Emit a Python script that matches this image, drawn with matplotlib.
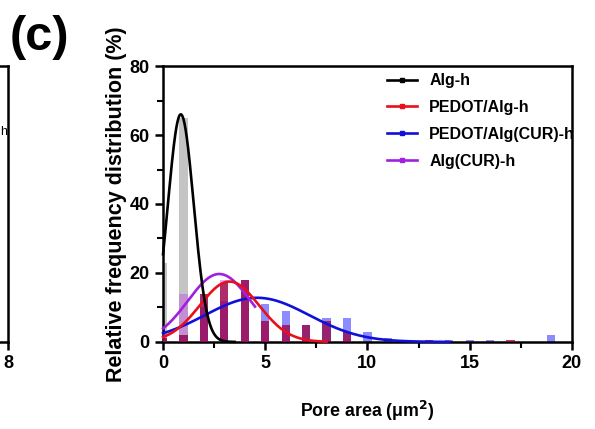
import numpy as np
import matplotlib
matplotlib.use('Agg')
import matplotlib.pyplot as plt
from matplotlib.lines import Line2D

plt.rcParams['font.family'] = ['Liberation Sans', 'DejaVu Sans']
plt.rcParams['font.weight'] = 'bold'

# 孔面积分布 (直方图, %)
pore_bins = np.arange(0, 20)
alg_h = [23, 65, 10, 2, 0, 0, 0, 0, 0, 0, 0, 0, 0, 0, 0, 0, 0, 0, 0, 0]
pedot_alg_h = [1, 2, 14, 17, 18, 6, 5, 5, 6, 3, 0, 0, 0, 0.5, 0, 0, 0, 0.5, 0, 0]
pedot_alg_cur_h = [1, 2, 10, 12, 18, 11, 9, 5, 7, 7, 3, 1, 0.5, 0, 0.5, 0.5, 0.5, 0, 0, 2]
alg_cur_h = [3, 14, 14, 18, 18, 6, 3, 0, 0, 0, 0, 0, 0, 0, 0, 0, 0, 0, 0, 0]

# 高斯拟合参数: 振幅, 均值, 标准差, 拟合范围
fit_alg_h = (66, 0.87, 0.63, 3.5)
fit_pedot_alg_h = (17.5, 3.25, 1.45, 8.0)
fit_pedot_alg_cur_h = (12.8, 4.6, 2.55, 14.0)
fit_alg_cur_h = (19.7, 2.75, 1.53, 4.5)

labels = ['Alg-h', 'PEDOT/Alg-h', 'PEDOT/Alg(CUR)-h', 'Alg(CUR)-h']
line_colors = ['black', '#e8101c', '#1010d8', '#a020e0']


def gauss_curve(p):
    amp, mu, sd, xmax = p
    x = np.linspace(0, xmax, 300)
    return x, amp * np.exp(-(x - mu) ** 2 / (2 * sd ** 2))


fig = plt.figure(figsize=(5.95, 4.29), dpi=100)

# 左侧被裁掉的子图残余
ax0 = fig.add_axes([-0.6, 0.203, 0.6134, 0.643])
ax0.set_xlim(0, 8)
ax0.set_ylim(0, 80)
ax0.set_xticks([8])
ax0.set_xticklabels(['8'], fontsize=13, fontweight='bold')
ax0.set_yticks([])
for s in ax0.spines.values():
    s.set_linewidth(1.8)
ax0.tick_params(axis='x', width=1.8, length=6)
ax0.text(7.99, 61, 'h', fontsize=9, fontweight='normal', ha='right', va='center')

ax = fig.add_axes([0.274, 0.203, 0.687, 0.643])

w = 0.4
ax.bar(pore_bins, alg_h, width=w, color='#c4c4c4', zorder=1)
ax.bar(pore_bins, pedot_alg_cur_h, width=w, color='#7070ff', alpha=0.8, zorder=2)
ax.bar(pore_bins, alg_cur_h, width=w, color='#c050e0', alpha=0.45, zorder=3)
ax.bar(pore_bins, pedot_alg_h, width=w, color='#9a0040', alpha=0.75, zorder=4)

fits = [fit_alg_h, fit_pedot_alg_h, fit_pedot_alg_cur_h, fit_alg_cur_h]
zs = [8, 7, 5, 6]
for p, c, z in zip(fits, line_colors, zs):
    x, y = gauss_curve(p)
    ax.plot(x, y, color=c, lw=1.9, zorder=z, clip_on=False)

ax.set_xlim(0, 20)
ax.set_ylim(0, 80)
ax.set_xticks([0, 5, 10, 15, 20])
ax.set_xticks(np.arange(0, 20.1, 2.5), minor=True)
ax.set_yticks([0, 20, 40, 60, 80])
ax.set_yticks(np.arange(0, 81, 10), minor=True)
ax.tick_params(axis='both', which='major', width=1.8, length=6, labelsize=13)
ax.tick_params(axis='both', which='minor', width=1.5, length=4)
for t in ax.get_xticklabels() + ax.get_yticklabels():
    t.set_fontweight('bold')
for s in ax.spines.values():
    s.set_linewidth(1.8)

ax.set_xlabel('Pore area (μm$^\\mathbf{2}$)', fontsize=12.8, fontweight='bold', labelpad=19)
ax.set_ylabel('Relative frequency distribution (%)', fontsize=15.5, fontweight='bold', labelpad=2)

handles = [Line2D([0], [0], color=c, lw=1.9, marker='s', markersize=3) for c in line_colors]
ax.legend(handles, labels, loc='upper left', bbox_to_anchor=(0.52, 1.015), frameon=False,
          prop={'weight': 'bold', 'size': 11.5}, handlelength=1.9, labelspacing=0.75,
          handletextpad=0.75, borderaxespad=0.3)

fig.text(0.017, 0.912, '(c)', fontsize=35, fontweight='bold', va='center', ha='left')

fig.savefig('out.png', dpi=100)
